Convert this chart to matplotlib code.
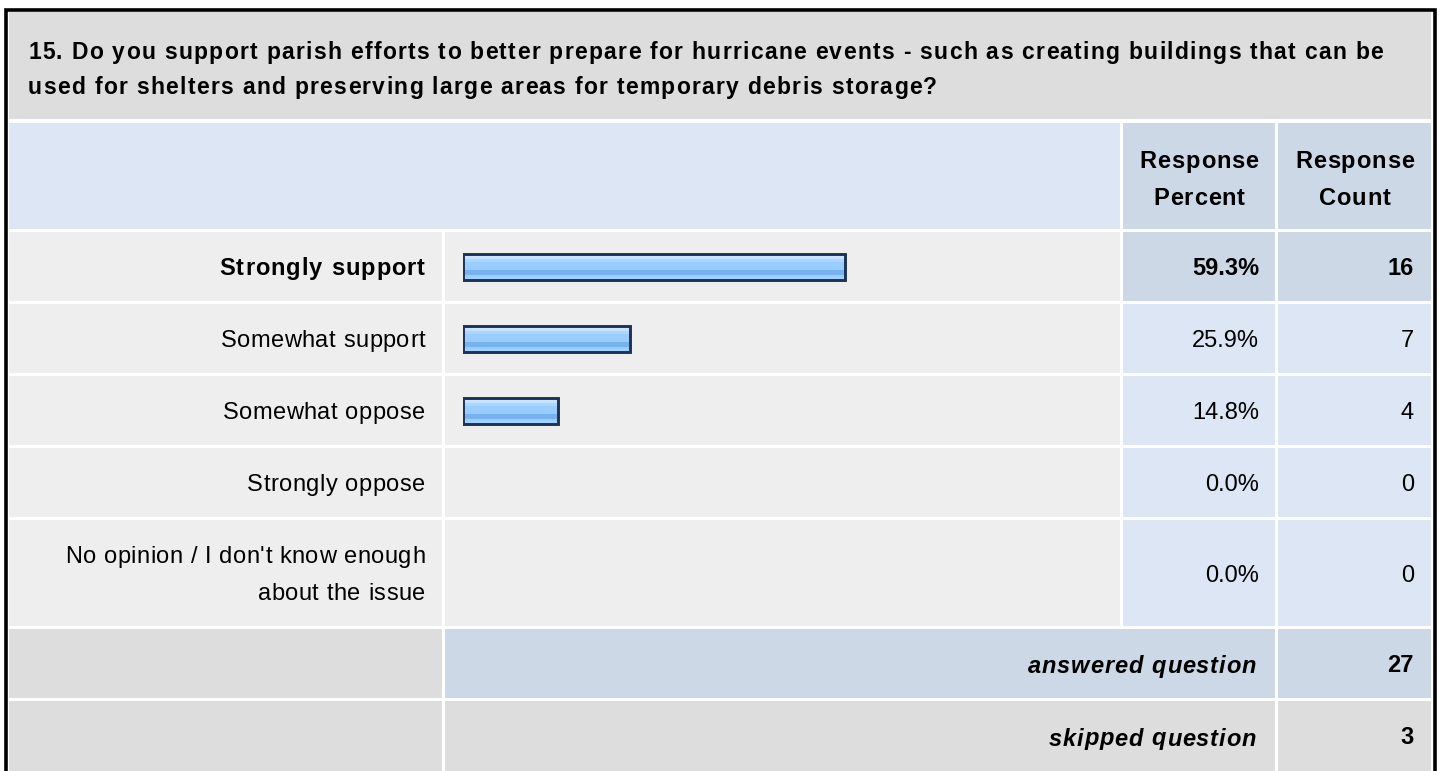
"""Survey question table with horizontal response bars."""

import matplotlib

matplotlib.use("Agg")
import matplotlib.pyplot as plt
import numpy as np
from matplotlib.font_manager import FontProperties
from matplotlib.patches import Rectangle

FONT = ["Liberation Sans", "DejaVu Sans"]
plt.rcParams["font.family"] = FONT

# --- data -------------------------------------------------------------------
title_lines = [
    "15. Do you support parish efforts to better prepare for hurricane events - such as creating buildings that can be",
    "used for shelters and preserving large areas for temporary debris storage?",
]
col_headers = ["Response\nPercent", "Response\nCount"]
choices = [
    "Strongly support",
    "Somewhat support",
    "Somewhat oppose",
    "Strongly oppose",
    "No opinion / I don't know enough\nabout the issue",
]
percents = [59.3, 25.9, 14.8, 0.0, 0.0]
counts = [16, 7, 4, 0, 0]
answered = 27
skipped = 3

# --- layout (pixels) --------------------------------------------------------
W, H = 1440, 771
C_TITLE = "#dddddd"
C_HEAD = "#dce6f4"
C_HEAD_DARK = "#ccd8e6"
C_ROW = "#eeeeee"
C_EDGE = "#1c3256"

col_x = [(9, 442), (445, 1120), (1123, 1275), (1278, 1431)]
row_y = [(232, 301), (304, 373), (376, 445), (448, 517), (520, 626)]
ans_y = (629, 698)
skip_y = (701, 771)
PCT_X, CNT_X = 1259, 1414

fig = plt.figure(figsize=(W / 100, H / 100), dpi=100)
fig.patch.set_facecolor("white")
ax = fig.add_axes([0, 0, 1, 1])
ax.set_xlim(0, W)
ax.set_ylim(H, 0)
ax.axis("off")
renderer = fig.canvas.get_renderer()


def cell(x0, x1, y0, y1, color):
    ax.add_patch(Rectangle((x0, y0), x1 - x0, y1 - y0, facecolor=color, edgecolor="none"))


def stext(x, y, s, size, spacing=0.0, ha="left", weight="normal", style="normal"):
    """Baseline-anchored text with extra letter spacing (px), like the browser render."""
    prop = FontProperties(family=FONT, size=size, weight=weight, style=style)
    if spacing == 0:
        ax.text(x, y, s, fontproperties=prop, ha=ha, va="baseline")
        return
    wbar = renderer.get_text_width_height_descent("|", prop, ismath=False)[0]
    adv = [renderer.get_text_width_height_descent(s[:k] + "|", prop, ismath=False)[0] - wbar
           for k in range(len(s))]
    total = renderer.get_text_width_height_descent(s, prop, ismath=False)[0] + spacing * (len(s) - 1)
    start = {"left": x, "right": x - total, "center": x - total / 2}[ha]
    for k, ch in enumerate(s):
        if ch != " ":
            ax.text(start + adv[k] + k * spacing, y, ch, fontproperties=prop,
                    ha="left", va="baseline")


# title block
cell(9, 1431, 12, 119, C_TITLE)
for i, line in enumerate(title_lines):
    stext(28, 59 + 35 * i, line, 16.5, spacing=1.3, weight="bold")

# header row
cell(9, 1120, 123, 229, C_HEAD)
for (x0, x1), head in zip(col_x[2:], col_headers):
    cell(x0, x1, 123, 229, C_HEAD_DARK)
    for j, part in enumerate(head.split("\n")):
        stext((x0 + x1) / 2, 168 + 37 * j, part, 17, spacing=0.85, ha="center", weight="bold")

# answer rows
max_i = int(np.argmax(counts))
for i, (label, pct, cnt) in enumerate(zip(choices, percents, counts)):
    y0, y1 = row_y[i]
    yc = (y0 + y1) / 2
    hi = i == max_i
    cell(*col_x[0], y0, y1, C_ROW)
    cell(*col_x[1], y0, y1, C_ROW)
    cell(*col_x[2], y0, y1, C_HEAD_DARK if hi else C_HEAD)
    cell(*col_x[3], y0, y1, C_HEAD_DARK if hi else C_HEAD)
    weight = "bold" if hi else "normal"
    parts = label.split("\n")
    for j, part in enumerate(parts):
        by = yc + 8.5 + 37 * (j - (len(parts) - 1) / 2)
        stext(425, by, part, 17, spacing=1.0 if hi else 0.5, ha="right", weight=weight)
    stext(PCT_X, yc + 8.5, f"{pct:.1f}%", 17, ha="right", weight=weight)
    stext(CNT_X, yc + 8.5, str(cnt), 17, ha="right", weight=weight)

# summary rows
for (y0, y1), label, val, mid in [(ans_y, "answered question", answered, C_HEAD_DARK),
                                  (skip_y, "skipped question", skipped, C_TITLE)]:
    yc = (y0 + y1) / 2
    cell(*col_x[0], y0, y1, C_TITLE)
    cell(445, 1275, y0, y1, mid)
    cell(*col_x[3], y0, y1, mid)
    stext(1256, yc + 9.5, label, 17, spacing=0.9, ha="right", weight="bold", style="italic")
    stext(CNT_X, yc + 8.5, str(val), 17, ha="right", weight="bold")

# outer border
ax.plot([5.5, 5.5, 1434.5, 1434.5], [H + 5, 9.5, 9.5, H + 5], color="black",
        lw=2.6, solid_joinstyle="miter", clip_on=False)

# --- bars: own axes, 0-100 % across 645 px starting at x=463 -----------------
bx0, bw = 463, 645
by0, by1 = row_y[0][0], row_y[-1][1]
bax = fig.add_axes([bx0 / W, 1 - by1 / H, bw / W, (by1 - by0) / H])
bax.set_xlim(0, 100)
bax.set_ylim(by1, by0)
bax.axis("off")
bax.patch.set_alpha(0)

centers = [(a + b) / 2 for a, b in row_y]
centers[-1] = row_y[-1][0] + 34.5
bars = bax.barh(centers, percents, height=26, facecolor="none", edgecolor=C_EDGE,
                linewidth=2.1, zorder=3)

grad = np.array([
    [0.80, 0.90, 1.00],
    [0.78, 0.89, 1.00],
    [0.68, 0.84, 1.00],
    [0.60, 0.80, 1.00],
    [0.60, 0.80, 1.00],
    [0.60, 0.80, 1.00],
    [0.47, 0.70, 0.93],
    [0.47, 0.70, 0.93],
    [0.60, 0.80, 1.00],
    [0.64, 0.82, 1.00],
])[:, None, :]
for bar, pct, yc in zip(bars, percents, centers):
    if pct <= 0:
        bar.set_visible(False)
        continue
    im = bax.imshow(grad, extent=(0, pct, yc + 13, yc - 13), aspect="auto",
                    interpolation="nearest", zorder=2)
    im.set_clip_path(bar)

fig.savefig("out.png", dpi=100, facecolor="white")
